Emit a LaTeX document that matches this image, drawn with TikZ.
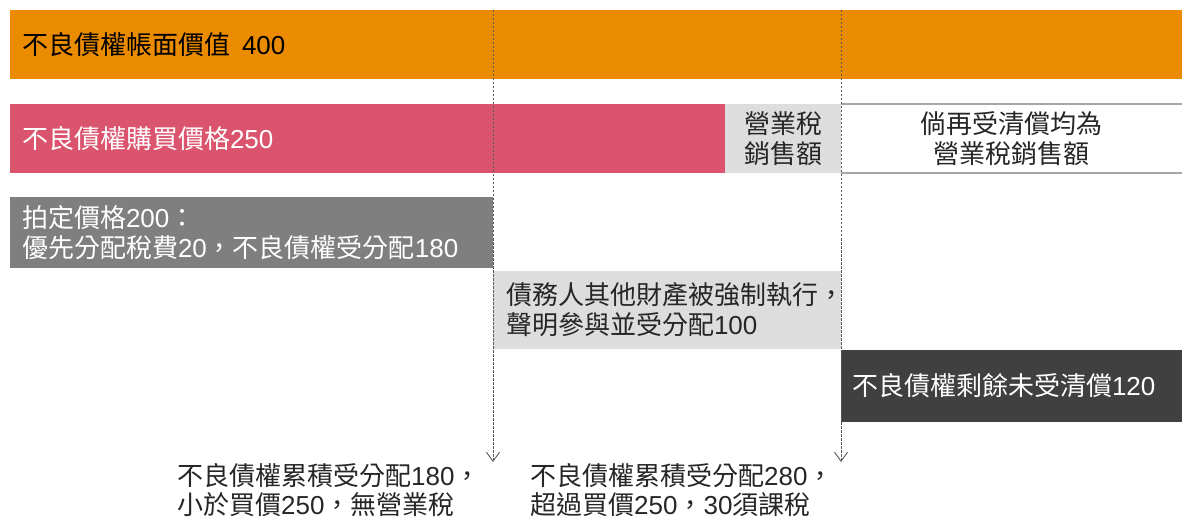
\documentclass[tikz,border=0pt]{standalone}
\usepackage{fontspec}
\setmainfont{Noto Sans CJK TC}
\newfontfamily\latfont{Liberation Sans}
\newcommand\nm[1]{{\latfont #1}}
\usetikzlibrary{arrows.meta}
\definecolor{cOrange}{HTML}{EA8B00}
\definecolor{cPink}{HTML}{DA546E}
\definecolor{cGray}{HTML}{7F7F7F}
\definecolor{cLight}{HTML}{DDDDDD}
\definecolor{cDark}{HTML}{404040}
\definecolor{cLine}{HTML}{5A5A5A}
\definecolor{cBorder}{HTML}{A6A6A6}
\definecolor{cText}{HTML}{262626}
\begin{document}
\begin{tikzpicture}[x=1pt,y=-1pt,
  box/.style={anchor=north west, inner xsep=12pt, inner ysep=0pt, outer sep=0pt,
    draw=none, align=left, font=\fontsize{26}{30}\selectfont},
  ctrbox/.style={box, inner xsep=0pt, align=center},
  note/.style={anchor=west, inner sep=0pt, align=left, text=cText,
    font=\fontsize{26}{29}\selectfont},
  guide/.style={draw=cLine, line width=1pt, dash pattern=on 2.5pt off 1.5pt,
    -{Straight Barb[length=9pt,width=13pt,line width=0.9pt]}}]
\useasboundingbox (0,0) rectangle (1182,521);

\node[box, fill=cOrange, text=black, text width=1148pt, minimum height=69pt] (book) at (10,10) {不良債權帳面價值\hspace{12pt}\nm{400}};
\node[box, fill=cPink, text=white, text width=691pt, minimum height=69pt] (buy) at (10,104) {不良債權購買價格\nm{250}};
\node[ctrbox, fill=cLight, text=cText, text width=116pt, minimum height=69pt] (tax) at (725,104) {營業稅\\銷售額};
\node[ctrbox, fill=white, text=cText, text width=341pt, minimum height=69pt] (rest) at (841,104) {倘再受清償均為\\營業稅銷售額};
\draw[cBorder, line width=1.2pt] (rest.north west) -- (rest.north east);
\draw[cBorder, line width=1.2pt] (rest.south west) -- (rest.south east);
\node[box, fill=cGray, text=white, text width=459pt, minimum height=71pt] (auction) at (10,197) {拍定價格\nm{200}：\\優先分配稅費\nm{20}，不良債權受分配\nm{180}};
\node[box, fill=cLight, text=cText, inner xsep=13pt, text width=322pt, minimum height=78pt] (debtor) at (493,271) {債務人其他財產被強制執行，\\聲明參與並受分配\nm{100}};
\node[box, fill=cDark, text=white, inner xsep=11pt, text width=319pt, minimum height=72pt] (remain) at (841,350) {不良債權剩餘未受清償\nm{120}};

\coordinate (g1s) at (493,10);
\coordinate (g1e) at (493,462);
\coordinate (g2s) at (841,10);
\coordinate (g2e) at (841,462);
\draw[guide] (g1s) -- (g1e);
\draw[guide] (g2s) -- (g2e);

\node[note] (res1) at (177,490) {不良債權累積受分配\nm{180}，\\小於買價\nm{250}，無營業稅};
\node[note] (res2) at (530,490) {不良債權累積受分配\nm{280}，\\超過買價\nm{250}，\nm{30}須課稅};
\end{tikzpicture}
\end{document}
